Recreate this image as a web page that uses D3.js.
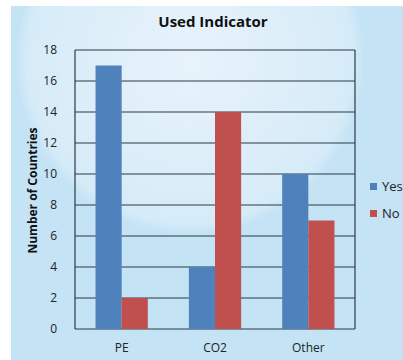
<!DOCTYPE html>
<html>
<head>
<meta charset="utf-8">
<script src="https://cdn.jsdelivr.net/npm/d3@7"></script>
<style>
    html, body { margin: 0; padding: 0; background: white; }
    svg { display: block; font-family: "Open Sans", "DejaVu Sans", sans-serif; }
</style>
</head>
<body>
<svg id="chart" width="403" height="360"></svg>
<script>
    // Data
    const categories = ['PE', 'CO2', 'Other'];
    const seriesNames = ['Yes', 'No'];
    const yesValues = [17, 4, 10];
    const noValues = [2, 14, 7];
    const yTicks = [0, 2, 4, 6, 8, 10, 12, 14, 16, 18];

    const COLORS = ['#4f81bd', '#c0504d'];

    const svg = d3.select('#chart');

    // Panel background
    const defs = svg.append('defs');
    const grad = defs.append('radialGradient')
        .attr('id', 'glow')
        .attr('gradientUnits', 'userSpaceOnUse')
        .attr('cx', 190).attr('cy', 60).attr('r', 175);
    grad.append('stop').attr('offset', '0%').attr('stop-color', '#e8f3fb');
    grad.append('stop').attr('offset', '93%').attr('stop-color', '#d6ebf8');
    grad.append('stop').attr('offset', '100%').attr('stop-color', '#c4e3f5');

    defs.append('clipPath').attr('id', 'panelClip')
        .append('rect').attr('x', 11).attr('y', 6).attr('width', 392).attr('height', 354);

    svg.append('rect')
        .attr('x', 11).attr('y', 6)
        .attr('width', 392).attr('height', 354)
        .attr('fill', '#c4e3f5');
    svg.append('circle')
        .attr('cx', 190).attr('cy', 60).attr('r', 175)
        .attr('fill', 'url(#glow)')
        .attr('clip-path', 'url(#panelClip)');

    // Plot area
    const plot = { left: 75, right: 355, top: 50, bottom: 329 };

    const x = d3.scaleBand()
        .domain(categories)
        .range([plot.left, plot.right])
        .paddingInner(0.44)
        .paddingOuter(0.22);

    const xSeries = d3.scaleBand()
        .domain(seriesNames)
        .range([0, x.bandwidth()]);

    const y = d3.scaleLinear()
        .domain([0, 18])
        .range([plot.bottom, plot.top]);

    // Gridlines
    svg.append('g')
        .selectAll('line')
        .data(yTicks)
        .enter().append('line')
        .attr('x1', plot.left).attr('x2', plot.right)
        .attr('y1', (d) => y(d)).attr('y2', (d) => y(d))
        .attr('stroke', '#2b3a44')
        .attr('stroke-width', 1.2);

    // Plot border (left and right)
    svg.append('line')
        .attr('x1', plot.left).attr('x2', plot.left)
        .attr('y1', plot.top).attr('y2', plot.bottom)
        .attr('stroke', '#2b3a44').attr('stroke-width', 1.2);
    svg.append('line')
        .attr('x1', plot.right).attr('x2', plot.right)
        .attr('y1', plot.top).attr('y2', plot.bottom)
        .attr('stroke', '#2b3a44').attr('stroke-width', 1.2);

    // Bars
    const rows = categories.map((c, i) => ({ cat: c, values: [yesValues[i], noValues[i]] }));
    const groups = svg.append('g')
        .selectAll('g')
        .data(rows)
        .enter().append('g')
        .attr('transform', (r) => `translate(${x(r.cat)},0)`);
    groups.selectAll('rect')
        .data((r) => r.values.map((v, j) => ({ name: seriesNames[j], value: v, j })))
        .enter().append('rect')
        .attr('x', (d) => xSeries(d.name))
        .attr('width', xSeries.bandwidth())
        .attr('y', (d) => y(d.value))
        .attr('height', (d) => y(0) - y(d.value))
        .attr('fill', (d) => COLORS[d.j]);

    // Y axis labels
    const yAxis = svg.append('g')
        .attr('transform', `translate(${plot.left},0)`)
        .call(d3.axisLeft(y).tickValues(yTicks).tickSize(0).tickPadding(18));
    yAxis.select('.domain').remove();
    yAxis.selectAll('text')
        .attr('font-size', 12)
        .attr('fill', '#222')
        .attr('font-family', '"Open Sans", sans-serif');

    // X axis labels
    const xAxis = svg.append('g')
        .attr('transform', `translate(0,${plot.bottom})`)
        .call(d3.axisBottom(x).tickSize(0).tickPadding(14));
    xAxis.select('.domain').remove();
    xAxis.selectAll('text')
        .attr('font-size', 12)
        .attr('fill', '#222')
        .attr('font-family', '"Open Sans", sans-serif');

    // Title
    svg.append('text')
        .attr('x', 213).attr('y', 27)
        .attr('text-anchor', 'middle')
        .attr('font-size', 15)
        .attr('font-weight', 'bold')
        .attr('fill', '#111')
        .text('Used Indicator');

    // Y title
    svg.append('text')
        .attr('transform', `translate(37,${(plot.top + plot.bottom) / 2 + 1}) rotate(-90)`)
        .attr('text-anchor', 'middle')
        .attr('font-size', 12)
        .attr('font-weight', 'bold')
        .attr('fill', '#111')
        .text('Number of Countries');

    // Legend
    const legend = svg.append('g')
        .selectAll('g')
        .data(seriesNames)
        .enter().append('g')
        .attr('transform', (d, i) => `translate(370,${183 + i * 27})`);
    legend.append('rect')
        .attr('width', 7).attr('height', 7)
        .attr('fill', (d, i) => COLORS[i]);
    legend.append('text')
        .attr('x', 12).attr('y', 8)
        .attr('font-size', 13)
        .attr('fill', '#222')
        .text((d) => d);
</script>
</body>
</html>
